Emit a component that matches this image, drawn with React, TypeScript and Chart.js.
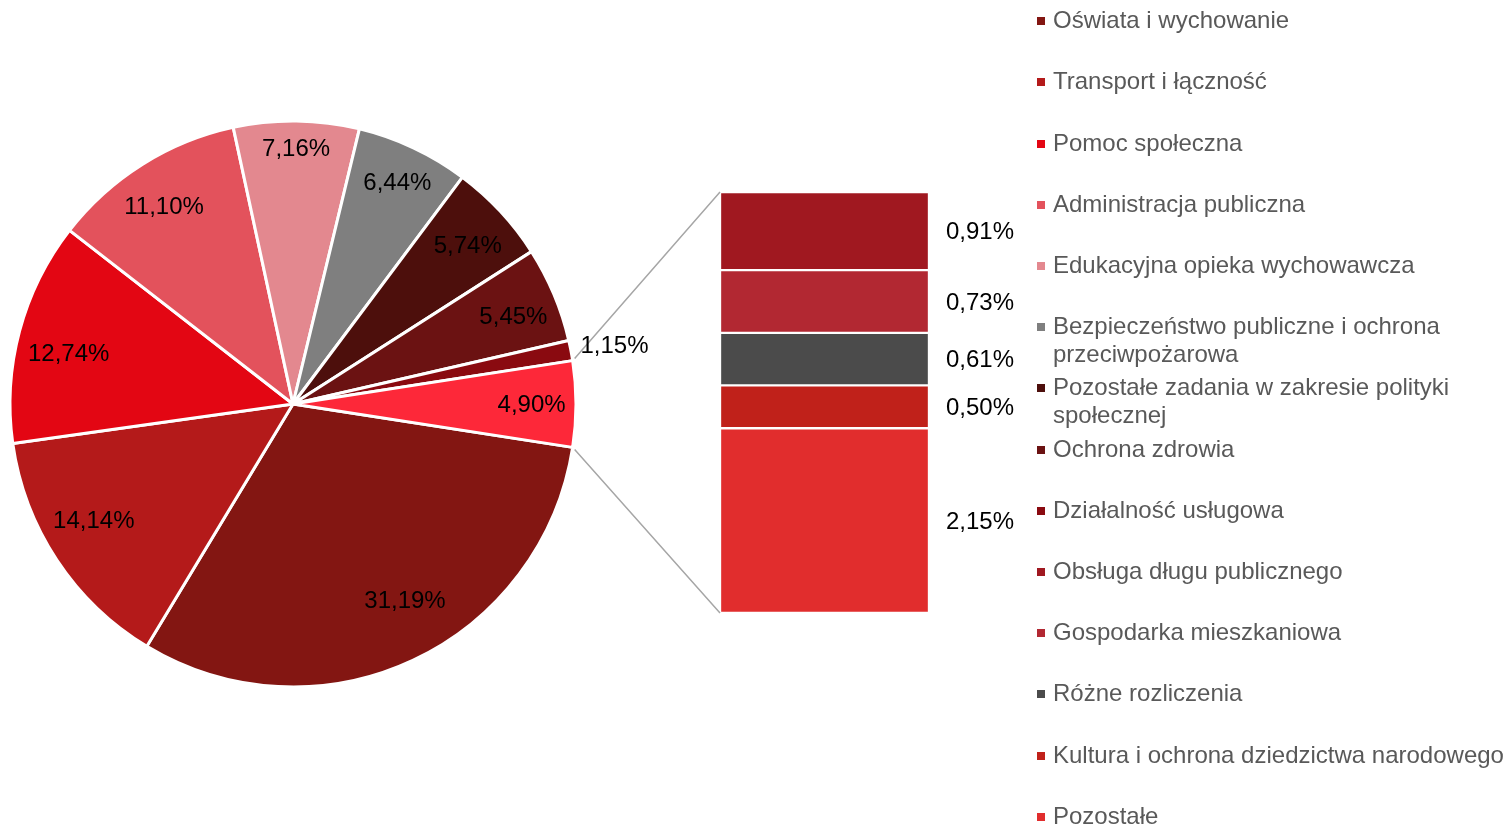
import React, { useEffect, useRef } from "react";
import { Chart, registerables } from "chart.js";

Chart.register(...registerables);

// ---- data ----
const pieLabels = [
  "Oświata i wychowanie",
  "Transport i łączność",
  "Pomoc społeczna",
  "Administracja publiczna",
  "Edukacyjna opieka wychowawcza",
  "Bezpieczeństwo publiczne i ochrona przeciwpożarowa",
  "Pozostałe zadania w zakresie polityki społecznej",
  "Ochrona zdrowia",
  "Działalność usługowa",
  "Pozostałe (suma)",
];
const pieValues = [31.19, 14.14, 12.74, 11.1, 7.16, 6.44, 5.74, 5.45, 1.15, 4.9];

const barLabels = [
  "Obsługa długu publicznego",
  "Gospodarka mieszkaniowa",
  "Różne rozliczenia",
  "Kultura i ochrona dziedzictwa narodowego",
  "Pozostałe",
];
const barValues = [0.91, 0.73, 0.61, 0.5, 2.15];

// ---- styles ----
const pieColors = [
  "#831612", "#B41A1A", "#E30613", "#E3525C", "#E3888F",
  "#7F7F7F", "#4D0F0C", "#6B1212", "#8A0A10", "#FD2839",
];
const barColors = ["#A01820", "#B22832", "#4B4B4B", "#C0211A", "#E12D2D"];
const labelRadius = [0.8, 0.815, 0.813, 0.835, 0.905, 0.867, 0.835, 0.838, 1.155, 0.843];
const labelAngleShift = [-4.6, 3.2, -2.1, -0.9, 0, 0, 0.6, 1.1, 0.5, 0];

const legendItems = [
  ...pieLabels.slice(0, 9).map((l, i) => ({ label: l, color: pieColors[i] })),
  ...barLabels.map((l, i) => ({ label: l, color: barColors[i] })),
];

const W = 1506;
const H = 826;
const FONT = '"Liberation Sans", Arial, Helvetica, sans-serif';
const fmt = (v: number) => v.toFixed(2).replace(".", ",") + "%";

export default function App() {
  const pieRef = useRef<HTMLCanvasElement | null>(null);
  const barRef = useRef<HTMLCanvasElement | null>(null);

  useEffect(() => {
    if (!pieRef.current || !barRef.current) return;
    const barTotal = barValues.reduce((a, b) => a + b, 0);

    const barLabelPlugin = {
      id: "barLabels",
      afterDatasetsDraw(chart: any) {
        const ctx = chart.ctx;
        ctx.save();
        ctx.font = `24px ${FONT}`;
        ctx.fillStyle = "#000";
        ctx.textAlign = "left";
        ctx.textBaseline = "middle";
        chart.data.datasets.forEach((ds: any, i: number) => {
          const el: any = chart.getDatasetMeta(i).data[0];
          const cy = (el.y + el.base) / 2;
          ctx.fillText(fmt(ds.data[0]), el.x + el.width / 2 + 17, cy + 1.5);
        });
        ctx.restore();
      },
    };

    const barChart = new Chart(barRef.current, {
      type: "bar",
      data: {
        labels: [""],
        datasets: barValues.map((v, i) => ({
          label: barLabels[i],
          data: [v],
          backgroundColor: barColors[i],
          borderColor: "#ffffff",
          borderWidth: 1.5,
          borderSkipped: false,
          barPercentage: 1,
          categoryPercentage: 1,
        })),
      },
      options: {
        responsive: false,
        animation: false,
        layout: { padding: { left: 720, right: W - 929, top: 192, bottom: H - 613 } },
        scales: {
          x: { stacked: true, display: false },
          y: { stacked: true, display: false, min: 0, max: barTotal, reverse: true },
        },
        plugins: { legend: { display: false }, tooltip: { enabled: false } },
      },
      plugins: [barLabelPlugin],
    } as any);

    const piePlugin = {
      id: "pieExtras",
      afterDatasetsDraw(chart: any) {
        const ctx = chart.ctx;
        const meta = chart.getDatasetMeta(0);
        const last: any = meta.data[meta.data.length - 1];
        const R = last.outerRadius;
        const area = barChart.chartArea;
        ctx.save();
        // connector lines
        ctx.strokeStyle = "#A6A6A6";
        ctx.lineWidth = 1.5;
        const p1 = { x: last.x + R * Math.cos(last.startAngle), y: last.y + R * Math.sin(last.startAngle) };
        const p2 = { x: last.x + R * Math.cos(last.endAngle), y: last.y + R * Math.sin(last.endAngle) };
        ctx.beginPath();
        ctx.moveTo(p1.x + 2, p1.y - 2);
        ctx.lineTo(area.left, area.top);
        ctx.moveTo(p2.x + 2, p2.y + 2);
        ctx.lineTo(area.left, area.bottom);
        ctx.stroke();
        // labels
        ctx.font = `24px ${FONT}`;
        ctx.fillStyle = "#000";
        ctx.textAlign = "center";
        ctx.textBaseline = "middle";
        meta.data.forEach((arc: any, i: number) => {
          const mid = (arc.startAngle + arc.endAngle) / 2 + (labelAngleShift[i] * Math.PI) / 180;
          const r = arc.outerRadius * labelRadius[i];
          const x = arc.x + r * Math.cos(mid);
          const y = arc.y + r * Math.sin(mid);
          ctx.fillText(fmt(chart.data.datasets[0].data[i]), x, y + 1);
        });
        ctx.restore();
      },
    };

    const pieChart = new Chart(pieRef.current, {
      type: "pie",
      data: {
        labels: pieLabels,
        datasets: [
          {
            data: pieValues,
            backgroundColor: pieColors,
            borderColor: "#ffffff",
            borderWidth: 3,
            hoverOffset: 0,
            hoverBorderWidth: 3,
          },
        ],
      },
      options: {
        responsive: false,
        animation: false,
        rotation: 98.82,
        layout: { padding: { left: 8.5, top: 119.5, right: W - 293 - 284.5, bottom: H - 404 - 284.5 } },
        plugins: { legend: { display: false }, tooltip: { enabled: false } },
      },
      plugins: [piePlugin],
    } as any);

    return () => {
      pieChart.destroy();
      barChart.destroy();
    };
  }, []);

  return (
    <div
      style={{
        position: "fixed",
        left: 0,
        top: 0,
        width: W,
        height: H,
        overflow: "hidden",
        background: "#ffffff",
        fontFamily: FONT,
      }}
    >
      <canvas ref={barRef} width={W} height={H} style={{ position: "absolute", left: 0, top: 0 }} />
      <canvas ref={pieRef} width={W} height={H} style={{ position: "absolute", left: 0, top: 0 }} />
      <div style={{ position: "absolute", left: 1037, top: 0, width: 469, height: H }}>
        {legendItems.map((it, i) => (
          <div
            key={i}
            style={{
              position: "absolute",
              left: 0,
              top: 6.2 + i * 61.2,
              width: 469,
              fontSize: 24,
              lineHeight: "27.4px",
              color: "#595959",
            }}
          >
            <span
              style={{
                position: "absolute",
                left: 0,
                top: 11,
                width: 8,
                height: 8,
                background: it.color,
              }}
            />
            <div style={{ marginLeft: 16, width: 452 }}>{it.label}</div>
          </div>
        ))}
      </div>
    </div>
  );
}
